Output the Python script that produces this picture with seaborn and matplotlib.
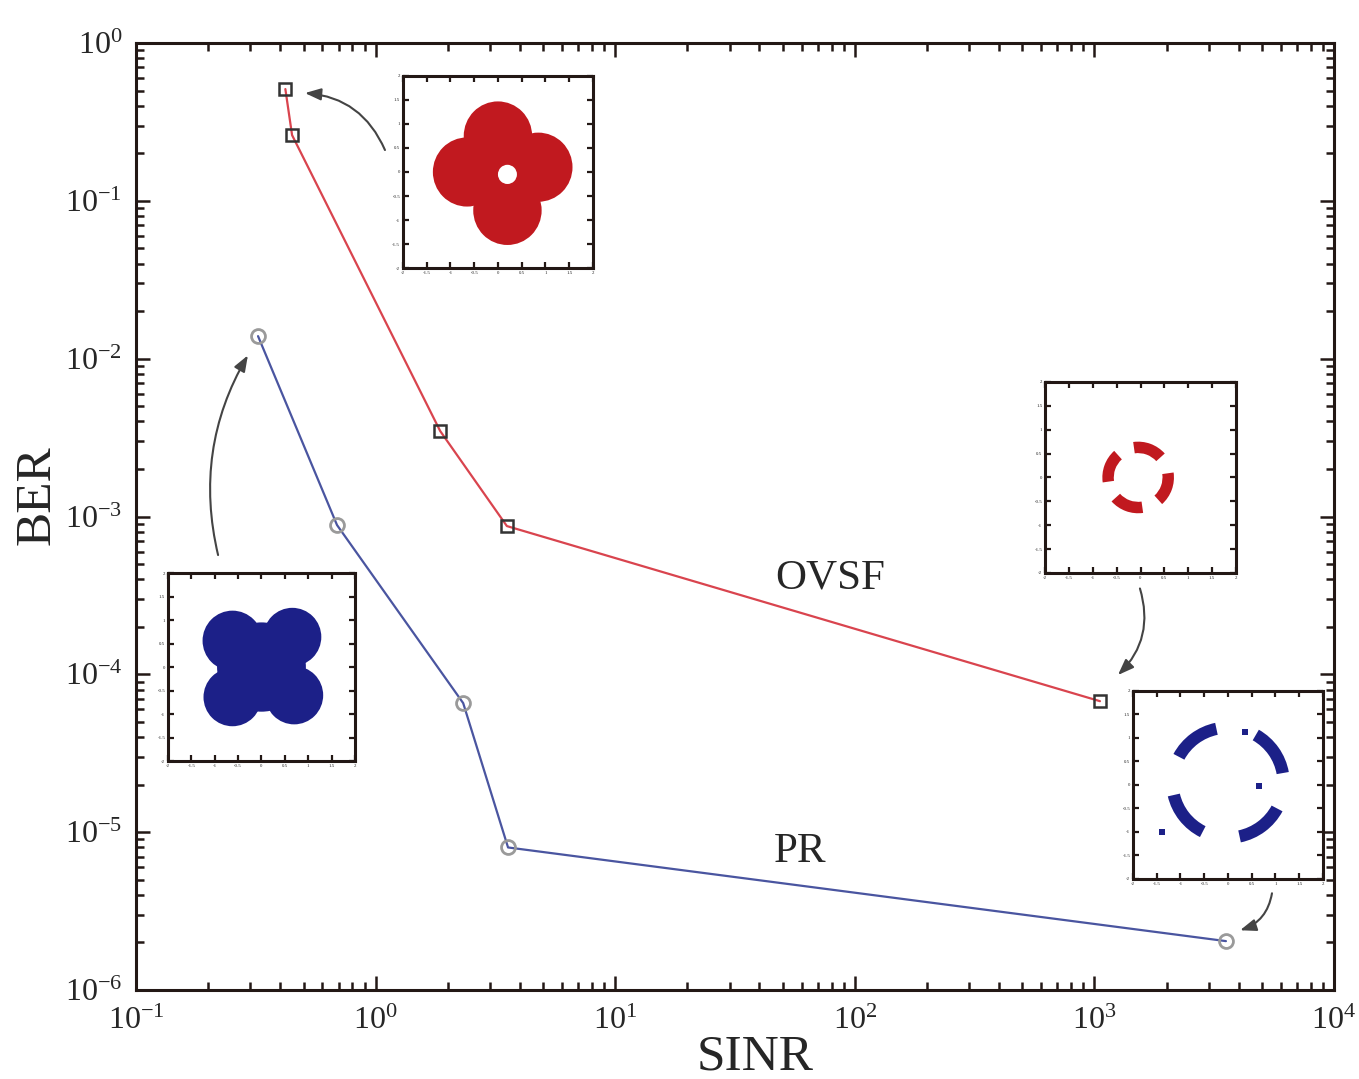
import numpy as np
import pandas as pd
import matplotlib
matplotlib.use("Agg")
import matplotlib.pyplot as plt
import seaborn as sns
from matplotlib.patches import Circle, Wedge, Rectangle

# ---------------- data ----------------
ovsf_sinr = [0.42, 0.448, 1.86, 3.53, 1055]
ovsf_ber = [0.511, 0.261, 3.48e-3, 8.7e-4, 6.76e-5]
pr_sinr = [0.323, 0.69, 2.32, 3.57, 3540]
pr_ber = [1.39e-2, 8.83e-4, 6.57e-5, 8.0e-6, 2.04e-6]
series_labels = ["OVSF", "PR"]
x_label = "SINR"
y_label = "BER"

# constellation insets (inset units, -2..2)
red_cloud_x = [0.0, 0.85, 0.2, -0.65, 0.1]
red_cloud_y = [0.75, 0.1, -0.8, 0.0, 0.0]
red_cloud_r = [0.72, 0.72, 0.72, 0.72, 0.6]
blue_cloud_x = [-0.62, 0.66, -0.62, 0.7, 0.0]
blue_cloud_y = [0.56, 0.64, -0.64, -0.6, 0.0]
blue_cloud_r = [0.64, 0.62, 0.62, 0.62, 0.95]
red_ring_angles = [70, 160, 250, 340]
blue_ring_angles = [35, 127, 218, 307]
blue_speck_x = [0.35, 0.65, -1.38]
blue_speck_y = [1.12, -0.03, -1.0]

RED = "#c1191f"
BLUE = "#1c2088"

sns.set_theme(style="ticks")
plt.rcParams["font.family"] = ["Liberation Serif", "DejaVu Serif"]
plt.rcParams["mathtext.fontset"] = "custom"
plt.rcParams["mathtext.rm"] = "Liberation Serif"
plt.rcParams["axes.unicode_minus"] = True

fig = plt.figure(figsize=(13.59, 10.79), dpi=100)
ax = fig.add_axes([0.1001, 0.0825, 0.8815, 0.8776])

df_o = pd.DataFrame({"x": ovsf_sinr, "y": ovsf_ber})
df_p = pd.DataFrame({"x": pr_sinr, "y": pr_ber})
sns.lineplot(data=df_o, x="x", y="y", ax=ax, sort=False, color="#d9444e", lw=1.6,
             marker="s", markersize=9, markerfacecolor="none",
             markeredgecolor="#333333", markeredgewidth=1.8, zorder=3)
sns.lineplot(data=df_p, x="x", y="y", ax=ax, sort=False, color="#4a55a0", lw=1.6,
             marker="o", markersize=10, markerfacecolor="none",
             markeredgecolor="#9a9a9a", markeredgewidth=2.0, zorder=3)

ax.set_xscale("log")
ax.set_yscale("log")
ax.set_xlim(1e-1, 1e4)
ax.set_ylim(1e-6, 1)
ax.set_xticks([1e-1, 1e0, 1e1, 1e2, 1e3, 1e4])
ax.set_yticks([1e-6, 1e-5, 1e-4, 1e-3, 1e-2, 1e-1, 1e0])
for s in ax.spines.values():
    s.set_linewidth(2.2)
    s.set_color("#231815")
ax.tick_params(which="both", direction="in", top=True, right=True,
               color="#231815", width=1.8)
ax.tick_params(which="major", length=10, labelsize=23, pad=10)
ax.tick_params(which="minor", length=6)
ax.tick_params(axis="x", which="major", pad=12)

ax.set_xlabel(x_label, fontsize=37)
ax.set_ylabel(y_label, fontsize=37)
ax.yaxis.set_label_coords(-0.063, 0.523)
ax.xaxis.set_label_coords(0.517, -0.047)

ax.text(78.8, 4.07e-4, series_labels[0], fontsize=31, ha="center", va="center")
ax.text(59, 7.47e-6, series_labels[1], fontsize=31, ha="center", va="center")

# arrows
arrow_kw = dict(arrowstyle="-|>,head_length=0.8,head_width=0.3", color="#444444", lw=1.5,
                shrinkA=0, shrinkB=0)
ax.annotate("", xy=(0.507, 0.482), xytext=(1.094, 0.21),
            arrowprops=dict(connectionstyle="arc3,rad=0.3", **arrow_kw))
ax.annotate("", xy=(0.293, 0.0105), xytext=(0.22, 5.7e-4),
            arrowprops=dict(connectionstyle="arc3,rad=-0.2", **arrow_kw))
ax.annotate("", xy=(1254, 9.9e-5), xytext=(1549, 3.5e-4),
            arrowprops=dict(connectionstyle="arc3,rad=-0.3", **arrow_kw))
ax.annotate("", xy=(4055, 2.39e-6), xytext=(5510, 4.1e-6),
            arrowprops=dict(connectionstyle="arc3,rad=-0.3", **arrow_kw))


def make_inset(rect):
    ia = fig.add_axes(rect)
    ia.set_xlim(-2, 2)
    ia.set_ylim(-2, 2)
    ia.set_aspect("auto")
    ticks = np.arange(-2, 2.01, 0.5)
    ia.set_xticks(ticks)
    ia.set_yticks(ticks)
    ia.set_xticklabels([f"{t:g}" for t in ticks])
    ia.set_yticklabels([f"{t:g}" for t in ticks])
    ia.tick_params(direction="in", top=True, right=True, length=4, width=1.6,
                   color="#231815", labelsize=3.5, pad=2)
    for s in ia.spines.values():
        s.set_linewidth(2.2)
        s.set_color("#231815")
    ia.set_facecolor("white")
    return ia

# inset 1: red cloud
ia1 = make_inset([0.2965, 0.7516, 0.1398, 0.178])
for cx, cy, r in zip(red_cloud_x, red_cloud_y, red_cloud_r):
    ia1.add_patch(Circle((cx, cy), r, color=RED, lw=0))
ia1.add_patch(Circle((0.2, -0.05), 0.2, color="white", lw=0))

# inset 2: blue cloud
ia2 = make_inset([0.1236, 0.2947, 0.1376, 0.1742])
for cx, cy, r in zip(blue_cloud_x, blue_cloud_y, blue_cloud_r):
    ia2.add_patch(Circle((cx, cy), r, color=BLUE, lw=0))

# inset 3: red ring
ia3 = make_inset([0.769, 0.469, 0.1405, 0.177])
for a in red_ring_angles:
    ia3.add_patch(Wedge((-0.05, 0.0), 0.75, a - 28, a + 28, width=0.24, color=RED, lw=0))

# inset 4: blue ring
ia4 = make_inset([0.8337, 0.1854, 0.1398, 0.1742])
for a in blue_ring_angles:
    ia4.add_patch(Wedge((0.0, 0.05), 1.3, a - 25, a + 25, width=0.26, color=BLUE, lw=0))
ia4.scatter(blue_speck_x, blue_speck_y, s=14, marker="s", color=BLUE, lw=0)

fig.savefig("out.png", dpi=100)
